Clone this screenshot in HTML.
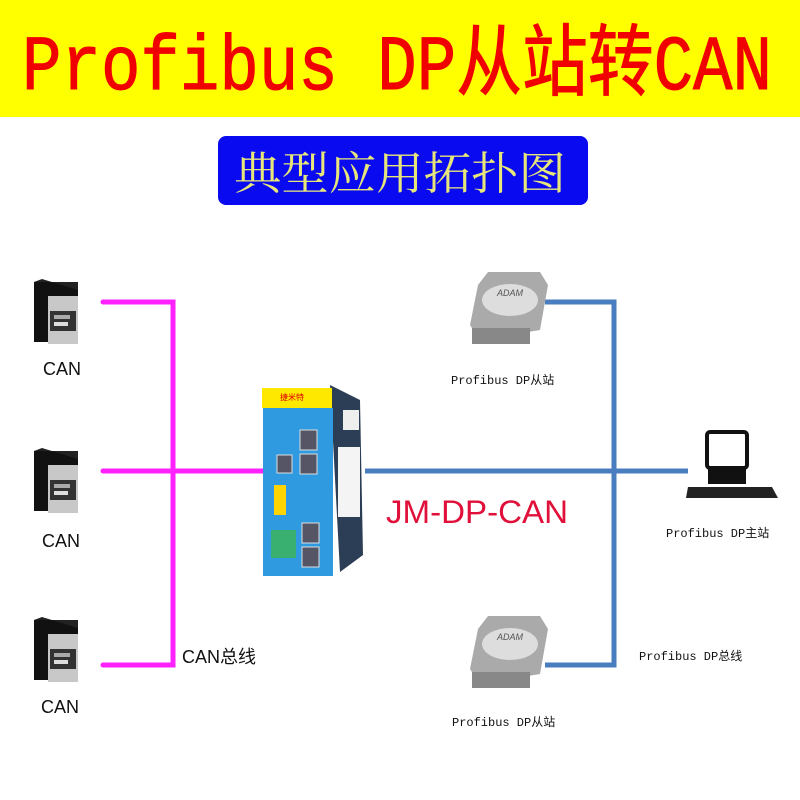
<!DOCTYPE html>
<html><head><meta charset="utf-8"><style>
html,body{margin:0;padding:0;background:#fff}
svg{display:block}
</style></head><body>
<svg width="800" height="800" viewBox="0 0 800 800" xmlns="http://www.w3.org/2000/svg">
<rect x="0" y="0" width="800" height="800" fill="#fff"/>
<rect x="0" y="0" width="800" height="117" fill="#ffff00"/>
<text x="22" y="89" font-family="Liberation Mono, Noto Sans CJK SC, monospace" font-size="78" fill="#f00000" stroke="#f00000" stroke-width="1" textLength="750" lengthAdjust="spacingAndGlyphs">Profibus DP从站转CAN</text>
<rect x="218" y="136" width="370" height="69" rx="8" fill="#0a0af0"/>
<text x="234" y="189" font-family="Noto Serif CJK SC, serif" font-size="45" fill="#e6e67a" textLength="332" lengthAdjust="spacingAndGlyphs">典型应用拓扑图</text>

<g stroke="#ff22ff" stroke-width="5" fill="none" stroke-linecap="round">
<path d="M103 302 H173 V665 H103"/>
<path d="M103 471 H268"/>
</g>
<g stroke="#4a7cc0" stroke-width="5" fill="none">
<path d="M545 302 H614 V665 H545"/>
<path d="M365 471 H688"/>
</g>

<g id="cand">
<rect x="34" y="282" width="44" height="60" fill="#111"/>
<polygon points="34,282 42,279 78,290 78,282" fill="#222"/>
<rect x="48" y="296" width="30" height="48" fill="#c8c8c8"/>
<rect x="50" y="311" width="26" height="20" fill="#333"/>
<rect x="54" y="315" width="16" height="4" fill="#aaa"/>
<rect x="54" y="322" width="14" height="4" fill="#ddd"/>
</g>
<use href="#cand" y="169"/>
<use href="#cand" y="338"/>
<g font-family="Liberation Sans, sans-serif" font-size="18" fill="#111">
<text x="43" y="375">CAN</text>
<text x="42" y="547">CAN</text>
<text x="41" y="713">CAN</text>
<text x="182" y="663" font-family="Liberation Sans, Noto Sans CJK SC, sans-serif">CAN总线</text>
</g>

<polygon points="330,385 360,400 363,555 340,572" fill="#2c3e55"/>
<rect x="343" y="410" width="16" height="20" fill="#eee"/>
<rect x="338" y="447" width="22" height="70" fill="#f4f4f4"/>
<rect x="262" y="388" width="70" height="20" fill="#ffe800"/>
<text x="280" y="400" font-family="Noto Sans CJK SC, sans-serif" font-size="8" fill="#d00">捷米特</text>
<rect x="263" y="408" width="70" height="168" fill="#2f9ae0"/>
<rect x="300" y="430" width="17" height="20" fill="#556" stroke="#ddd"/>
<rect x="300" y="454" width="17" height="20" fill="#556" stroke="#ddd"/>
<rect x="277" y="455" width="15" height="18" fill="#556" stroke="#ddd"/>
<rect x="302" y="523" width="17" height="20" fill="#556" stroke="#ddd"/>
<rect x="302" y="547" width="17" height="20" fill="#556" stroke="#ddd"/>
<rect x="274" y="485" width="12" height="30" fill="#ffd400"/>
<rect x="271" y="530" width="25" height="28" fill="#3ab070"/>

<g id="adam">
<polygon points="478,285 488,272 540,272 548,285 540,330 480,340 470,325" fill="#aaa"/>
<ellipse cx="510" cy="300" rx="28" ry="16" fill="#ddd"/>
<text x="497" y="296" font-family="Liberation Sans,sans-serif" font-size="9" font-style="italic" fill="#555">ADAM</text>
<rect x="472" y="328" width="58" height="16" fill="#888"/>
</g>
<use href="#adam" y="344"/>
<rect x="707" y="432" width="40" height="36" rx="3" fill="#fff" stroke="#111" stroke-width="4"/>
<rect x="708" y="468" width="38" height="16" fill="#111"/>
<polygon points="688,487 772,487 778,498 686,498" fill="#222"/>

<g font-family="Liberation Mono, Noto Sans CJK SC, monospace" font-size="12" fill="#111">
<text x="451" y="384">Profibus DP从站</text>
<text x="666" y="537">Profibus DP主站</text>
<text x="639" y="660">Profibus DP总线</text>
<text x="452" y="726">Profibus DP从站</text>
</g>
<text x="386" y="523" font-family="Liberation Sans, sans-serif" font-size="32" fill="#e0103a" textLength="182" lengthAdjust="spacingAndGlyphs">JM-DP-CAN</text>
</svg>
</body></html>
